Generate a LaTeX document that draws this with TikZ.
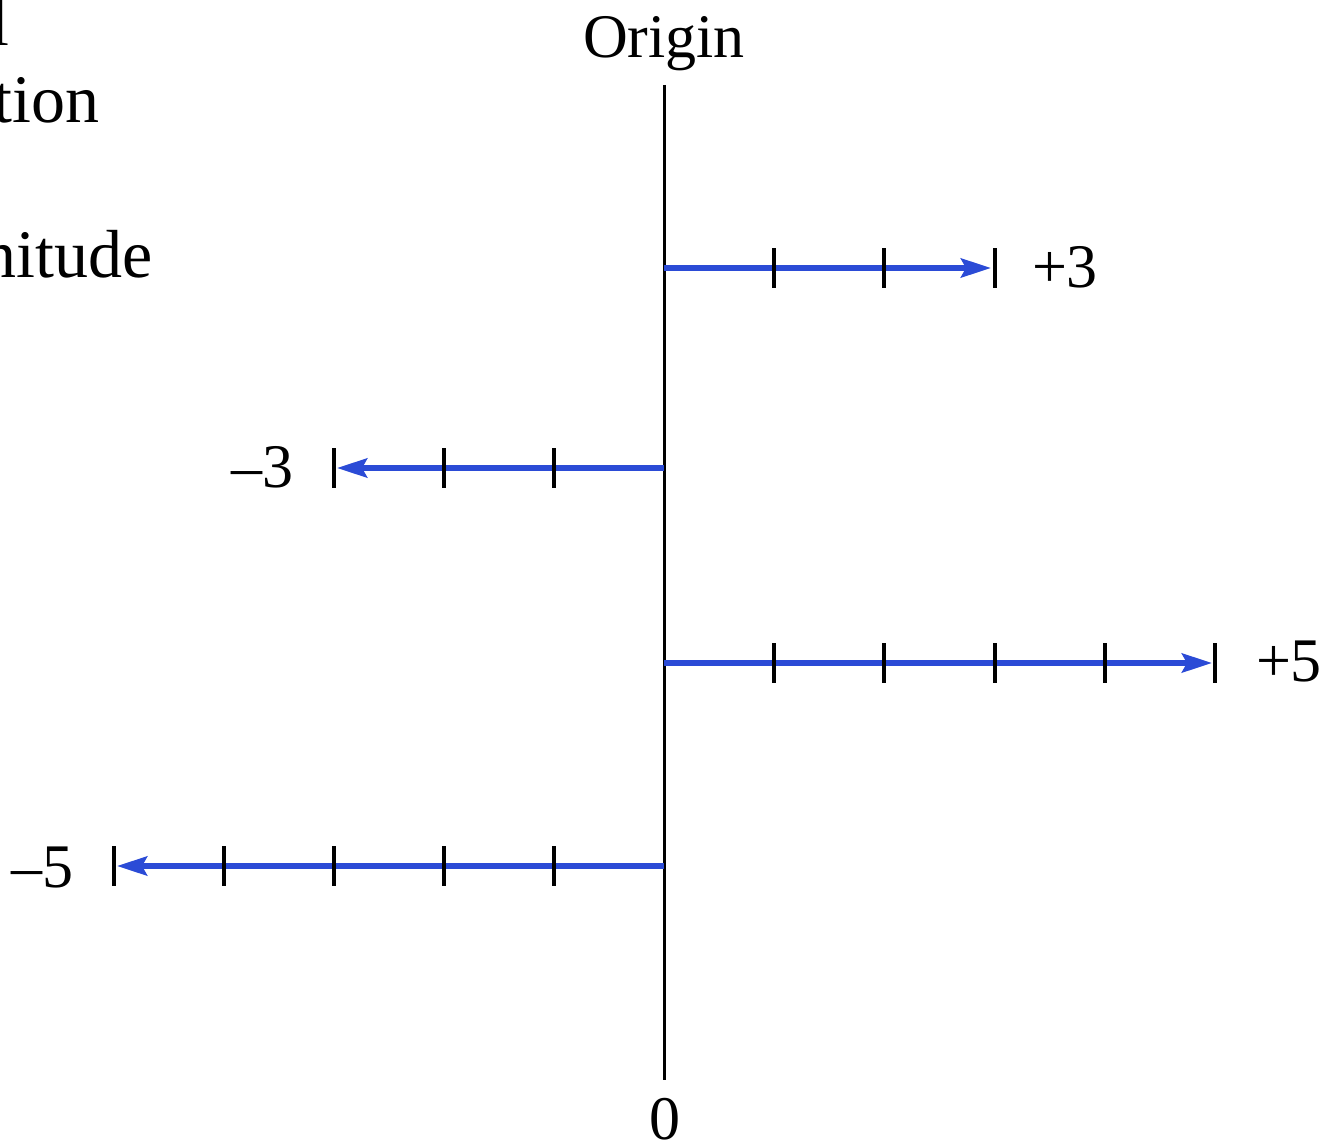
\documentclass[tikz,border=0pt]{standalone}
\usepackage{fontspec}
\setmainfont{Liberation Serif}
\usetikzlibrary{arrows.meta}
\definecolor{vecblue}{RGB}{43,75,214}
\begin{document}
\begin{tikzpicture}[x=0.5pt,y=-0.5pt,
  axisline/.style={line width=1.5pt,black},
  tickmark/.style={line width=1.6pt,black},
  vec/.style={line width=2.8pt,vecblue,-{Stealth[length=15pt,width=9.5pt,inset=2.5pt]}},
  lbl/.style={font=\fontsize{31}{37}\selectfont,inner sep=0pt,anchor=base},
  side/.style={font=\fontsize{34}{41}\selectfont,inner sep=0pt,anchor=base east}]
\useasboundingbox (0,0) rectangle (1339,1145);
\clip (0,0) rectangle (1339,1145);
% axis
\coordinate (top) at (664,85);
\coordinate (bot) at (664,1080);
\draw[axisline] (top) -- (bot);
\node[lbl] (origin) at (664,58) {Origin};
\node[lbl] (zero) at (665,1139) {0};
% vectors
\coordinate (o1) at (664,268); \coordinate (e1) at (991,268);
\coordinate (o2) at (664,468); \coordinate (e2) at (337,468);
\coordinate (o3) at (664,663); \coordinate (e3) at (1212,663);
\coordinate (o4) at (664,866); \coordinate (e4) at (117,866);
\draw[vec] (o1) -- (e1);
\draw[vec] (o2) -- (e2);
\draw[vec] (o3) -- (e3);
\draw[vec] (o4) -- (e4);
% ticks
\foreach \x in {774,884,995} \draw[tickmark] (\x,248) -- (\x,288);
\foreach \x in {554,444,334} \draw[tickmark] (\x,448) -- (\x,488);
\foreach \x in {774,884,995,1105,1215} \draw[tickmark] (\x,643) -- (\x,683);
\foreach \x in {554,444,334,224,114} \draw[tickmark] (\x,846) -- (\x,886);
% labels
\node[lbl] (p3) at (1065,287) {+3};
\node[lbl] (m3) at (262,487) {\textendash3};
\node[lbl] (p5) at (1289,681) {+5};
\node[lbl] (m5) at (42,887) {\textendash5};
% clipped side text
\node[side] (s1) at (10,46) {l};
\node[side] (s2) at (100,123) {tion};
\node[side] (s3) at (153,277) {nitude};
\end{tikzpicture}
\end{document}
